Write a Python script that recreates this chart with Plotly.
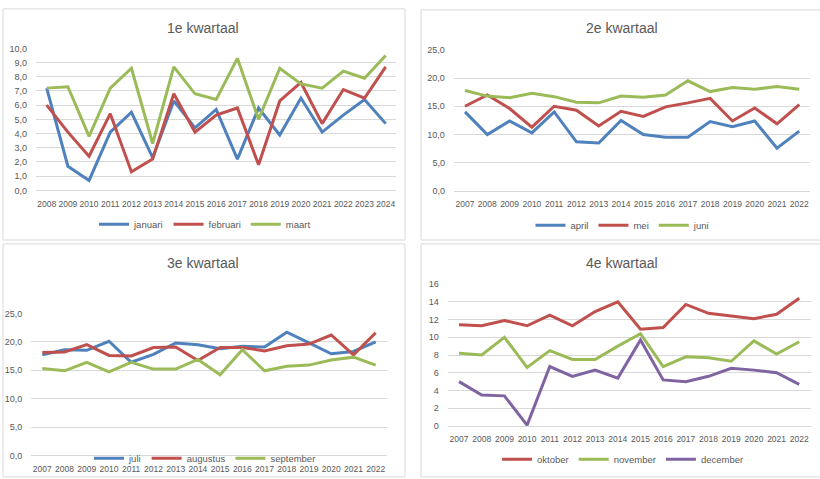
import plotly.graph_objects as go

years_q1 = list(range(2008, 2025))
januari = [7.2, 1.7, 0.7, 4.1, 5.5, 2.3, 6.3, 4.4, 5.7, 2.2, 5.8, 3.9, 6.5, 4.1, 5.3, 6.4, 4.7]
februari = [6.0, 4.1, 2.4, 5.4, 1.3, 2.2, 6.8, 4.1, 5.3, 5.8, 1.8, 6.3, 7.6, 4.7, 7.1, 6.5, 8.7]
maart = [7.2, 7.3, 3.8, 7.2, 8.6, 3.3, 8.7, 6.8, 6.4, 9.3, 5.0, 8.6, 7.5, 7.2, 8.4, 7.9, 9.5]

years = list(range(2007, 2023))
april = [14.0, 10.0, 12.4, 10.3, 14.0, 8.7, 8.5, 12.5, 10.0, 9.5, 9.5, 12.3, 11.4, 12.4, 7.6, 10.6]
mei = [15.0, 17.0, 14.6, 11.3, 15.0, 14.3, 11.5, 14.1, 13.2, 14.9, 15.6, 16.4, 12.4, 14.7, 11.9, 15.3]
juni = [17.8, 16.8, 16.5, 17.3, 16.7, 15.7, 15.6, 16.8, 16.6, 17.0, 19.5, 17.6, 18.3, 18.0, 18.5, 18.0]

juli = [17.7, 18.6, 18.5, 20.1, 16.4, 17.8, 19.8, 19.5, 18.8, 19.2, 19.1, 21.7, 19.8, 17.9, 18.3, 20.0]
augustus = [18.1, 18.2, 19.5, 17.6, 17.5, 19.0, 19.1, 16.7, 19.0, 19.0, 18.4, 19.3, 19.6, 21.2, 17.7, 21.6]
september = [15.3, 14.9, 16.4, 14.7, 16.4, 15.2, 15.2, 16.9, 14.2, 18.6, 14.9, 15.7, 15.9, 16.8, 17.3, 15.9]

oktober = [11.4, 11.3, 11.9, 11.3, 12.5, 11.3, 12.9, 14.0, 10.9, 11.1, 13.7, 12.7, 12.4, 12.1, 12.6, 14.4]
november = [8.2, 8.0, 10.0, 6.6, 8.5, 7.5, 7.5, 9.0, 10.4, 6.7, 7.8, 7.7, 7.3, 9.6, 8.1, 9.5]
december = [5.0, 3.5, 3.4, 0.1, 6.7, 5.6, 6.3, 5.4, 9.7, 5.2, 5.0, 5.6, 6.5, 6.3, 6.0, 4.7]

titles = ["1e kwartaal", "2e kwartaal", "3e kwartaal", "4e kwartaal"]

BLUE = "#4F81BD"
RED = "#C0504D"
GREEN = "#9BBB59"
PURPLE = "#8064A2"
GRAY = "#595959"
GRID = "#D9D9D9"
W, H = 820, 479
FONT = "Liberation Sans, Arial, sans-serif"

panels = [
    (years_q1, [("januari", januari, BLUE), ("februari", februari, RED), ("maart", maart, GREEN)]),
    (years, [("april", april, BLUE), ("mei", mei, RED), ("juni", juni, GREEN)]),
    (years, [("juli", juli, BLUE), ("augustus", augustus, RED), ("september", september, GREEN)]),
    (years, [("oktober", oktober, RED), ("november", november, GREEN), ("december", december, PURPLE)]),
]

fig = go.Figure()
for i, (xs, series) in enumerate(panels):
    n = i + 1
    sfx = "" if n == 1 else str(n)
    for name, vals, col in series:
        fig.add_trace(go.Scatter(
            x=xs, y=vals, name=name, mode="lines",
            line=dict(color=col, width=3),
            xaxis="x" + sfx, yaxis="y" + sfx,
            legend="legend" + sfx,
        ))

def px_x(p):
    return p / W

def px_y(p):
    return 1 - p / H

geo = [
    ((36.1, 396.3), (189.3, 44.3), (2007.5, 2024.5), (0, 10), 1, ".1f"),
    ((453.9, 810.4), (190.0, 45.7), (2006.5, 2022.5), (0, 25), 5, ".1f"),
    ((31.2, 386.8), (460.0, 315.0), (2006.5, 2022.5), (0, 25), 5, ".1f"),
    ((447.7, 810.6), (430.0, 285.0), (2006.5, 2022.5), (0, 16), 2, "d"),
]

layout = dict(
    width=W, height=H,
    margin=dict(l=0, r=0, t=0, b=0),
    paper_bgcolor="white", plot_bgcolor="white",
    separators=",.",
    font=dict(family=FONT, color=GRAY, size=9),
    showlegend=True,
)

for i, (xd, yd, xr, yr, dt, fmt) in enumerate(geo):
    n = i + 1
    sfx = "" if n == 1 else str(n)
    xs = panels[i][0]
    layout["xaxis" + sfx] = dict(
        domain=[px_x(xd[0]), px_x(xd[1])], range=list(xr),
        anchor="y" + sfx, tickmode="array", tickvals=xs,
        ticktext=[str(v) for v in xs], showgrid=False, zeroline=False,
        showline=True, linecolor=GRID, linewidth=1, tickangle=0,
        tickfont=dict(size=8.5, color=GRAY, family=FONT), ticks="", ticklabelstandoff=5,
        fixedrange=True,
    )
    layout["yaxis" + sfx] = dict(
        domain=[px_y(yd[0]), px_y(yd[1])], range=list(yr),
        anchor="x" + sfx, dtick=dt, tick0=0, tickformat=fmt,
        showgrid=True, gridcolor=GRID, gridwidth=1, zeroline=False,
        showline=False, ticks="", ticklabelstandoff=8,
        tickfont=dict(size=9, color=GRAY, family=FONT),
        fixedrange=True,
    )

legend_pos = [(205, 224), (623, 225), (205, 463), (623, 464)]
for i, (lx, ly) in enumerate(legend_pos):
    n = i + 1
    sfx = "" if n == 1 else str(n)
    layout["legend" + sfx] = dict(
        orientation="h", x=px_x(lx), y=px_y(ly), xanchor="center", yanchor="middle",
        font=dict(size=9.5, color=GRAY, family=FONT), bgcolor="rgba(0,0,0,0)",
        itemwidth=30, tracegroupgap=0,
    )

fig.update_layout(**layout)

title_pos = [(203, 24), (622, 24), (203, 264), (622, 264)]
for t, (tx, ty) in zip(titles, title_pos):
    fig.add_annotation(text=t, x=px_x(tx), y=px_y(ty), xref="paper", yref="paper",
                       showarrow=False, xanchor="center", yanchor="middle",
                       font=dict(size=14, color=GRAY, family=FONT))

boxes = [(3, 4, 405, 240), (421, 5, 823, 240), (3, 244, 405, 482), (421, 244, 823, 482)]
for x0, y0, x1, y1 in boxes:
    fig.add_shape(type="rect", xref="paper", yref="paper",
                  x0=px_x(x0), x1=px_x(x1), y0=px_y(y1), y1=px_y(y0),
                  line=dict(color=GRID, width=1), fillcolor="rgba(0,0,0,0)", layer="below")

fig.write_html(
    "out.html",
    config={"displayModeBar": False},
    post_script="document.body.style.margin='0';document.body.style.padding='0';document.body.style.overflow='hidden';",
)
